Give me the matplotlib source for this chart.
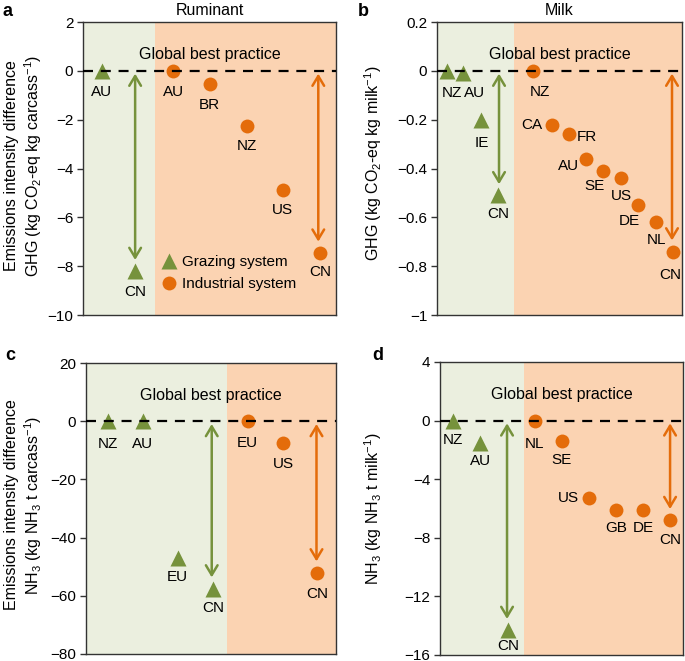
import matplotlib
matplotlib.use("Agg")
import matplotlib.pyplot as plt

plt.rcParams['font.family'] = ['Liberation Sans', 'DejaVu Sans']
plt.rcParams['mathtext.default'] = 'regular'

GREEN = '#76923c'
ORANGE = '#e46c0a'
GREEN_BG = '#ebefdf'
ORANGE_BG = '#fbd3b2'

# ---- data (x = position across the panel, 0..1) ----
# a: Ruminant GHG
a_graz_names = ['AU', 'CN']
a_graz_x = [0.075, 0.206]
a_graz_y = [0.0, -8.2]
a_ind_names = ['AU', 'BR', 'NZ', 'US', 'CN']
a_ind_x = [0.356, 0.50, 0.648, 0.79, 0.937]
a_ind_y = [0.0, -0.55, -2.25, -4.9, -7.45]

# b: Milk GHG
b_graz_names = ['NZ', 'AU', 'IE', 'CN']
b_graz_x = [0.04, 0.106, 0.178, 0.249]
b_graz_y = [0.0, -0.01, -0.20, -0.51]
b_ind_names = ['NZ', 'CA', 'FR', 'AU', 'SE', 'US', 'DE', 'NL', 'CN']
b_ind_x = [0.392, 0.469, 0.539, 0.608, 0.678, 0.751, 0.82, 0.894, 0.963]
b_ind_y = [0.0, -0.22, -0.26, -0.36, -0.41, -0.44, -0.55, -0.62, -0.74]

# c: Ruminant NH3
c_graz_names = ['NZ', 'AU', 'EU', 'CN']
c_graz_x = [0.088, 0.227, 0.367, 0.509]
c_graz_y = [0.0, 0.0, -47.0, -57.5]
c_ind_names = ['EU', 'US', 'CN']
c_ind_x = [0.647, 0.789, 0.925]
c_ind_y = [0.0, -7.5, -52.0]

# d: Milk NH3
d_graz_names = ['NZ', 'AU', 'CN']
d_graz_x = [0.055, 0.165, 0.281]
d_graz_y = [0.0, -1.5, -14.3]
d_ind_names = ['NL', 'SE', 'US', 'GB', 'DE', 'CN']
d_ind_x = [0.391, 0.501, 0.615, 0.724, 0.837, 0.947]
d_ind_y = [0.0, -1.4, -5.3, -6.1, -6.1, -6.8]

# label offsets in pixels (dx, dy) for each point
a_graz_off = [(0, -21), (0, -21)]
a_ind_off = [(0, -21), (0, -21), (0, -20), (0, -20), (0, -19)]
b_graz_off = [(5, -22), (12, -20), (1, -23), (0, -19)]
b_ind_off = [(7, -21), (-20, 0), (18, -3), (-17, -7), (-9, -15),
             (0, -18), (-9, -16), (0, -18), (-3, -23)]
c_graz_off = [(0, -23), (0, -23), (0, -19), (0, -19)]
c_ind_off = [(0, -22), (0, -21), (0, -21)]
d_graz_off = [(0, -19), (0, -18), (0, -16)]
d_ind_off = [(0, -23), (0, -19), (-21, 0), (0, -18), (0, -18), (0, -20)]

fig = plt.figure(figsize=(6.85, 6.61), dpi=100)


def panel(rect, ylim, yticks, split, graz, ind, arrows):
    ax = fig.add_axes(rect)
    ax.set_xlim(0, 1)
    ax.set_ylim(*ylim)
    ax.axvspan(0, split, color=GREEN_BG, zorder=0, lw=0)
    ax.axvspan(split, 1, color=ORANGE_BG, zorder=0, lw=0)
    names, xs, ys, offs = graz
    ax.plot(xs, ys, '^', color=GREEN, ms=11, mec='none', zorder=3)
    for n, x, y, o in zip(names, xs, ys, offs):
        ax.annotate(n, (x, y), xytext=o, textcoords='offset pixels',
                    ha='center', va='center', fontsize=11)
    names, xs, ys, offs = ind
    ax.plot(xs, ys, 'o', color=ORANGE, ms=10, mec='none', zorder=3)
    for n, x, y, o in zip(names, xs, ys, offs):
        ax.annotate(n, (x, y), xytext=o, textcoords='offset pixels',
                    ha='center', va='center', fontsize=11)
    ax.axhline(0, color='black', lw=1.6, ls=(0, (4.5, 3.5)), zorder=4)
    for x, y0, y1, col in arrows:
        ax.annotate('', xy=(x, y1), xytext=(x, y0),
                    arrowprops=dict(arrowstyle='<->,head_length=0.5,head_width=0.3',
                                    color=col, lw=1.8, shrinkA=2, shrinkB=8,
                                    mutation_scale=14),
                    zorder=2)
    ax.text(0.5, 0.888, 'Global best practice', transform=ax.transAxes,
            ha='center', va='center', fontsize=11.5)
    ax.set_yticks(yticks)
    ax.set_xticks([])
    ax.tick_params(axis='y', direction='out', length=4, width=1, labelsize=11,
                   color='#333333', pad=3)
    for s in ax.spines.values():
        s.set_color('#333333')
        s.set_linewidth(1)
    return ax


ax_a = panel([0.1212, 0.5234, 0.3693, 0.4433], (-10, 2), range(-10, 3, 2), 0.285,
             (a_graz_names, a_graz_x, a_graz_y, a_graz_off),
             (a_ind_names, a_ind_x, a_ind_y, a_ind_off),
             [(a_graz_x[-1], 0, a_graz_y[-1], GREEN), (0.93, 0, a_ind_y[-1], ORANGE)])
ax_a.set_title('Ruminant', fontsize=11.5, pad=5)
ax_a.set_yticklabels(['\u221210', '\u22128', '\u22126', '\u22124', '\u22122', '0', '2'])
ax_a.plot([], [], '^', color=GREEN, ms=11, mec='none', label='Grazing system')
ax_a.plot([], [], 'o', color=ORANGE, ms=10, mec='none', label='Industrial system')
ax_a.legend(loc='lower left', bbox_to_anchor=(0.27, 0.06), frameon=False,
            fontsize=11, handletextpad=0.1, labelspacing=0.55, handlelength=1.5,
            borderaxespad=0)

ax_b = panel([0.638, 0.5234, 0.3577, 0.4433], (-1, 0.2), [-1, -0.8, -0.6, -0.4, -0.2, 0, 0.2], 0.314,
             (b_graz_names, b_graz_x, b_graz_y, b_graz_off),
             (b_ind_names, b_ind_x, b_ind_y, b_ind_off),
             [(0.253, 0, b_graz_y[-1], GREEN), (0.959, 0, b_ind_y[-1], ORANGE)])
ax_b.set_title('Milk', fontsize=11.5, pad=5)
ax_b.set_yticklabels(['\u22121', '\u22120.8', '\u22120.6', '\u22120.4', '\u22120.2', '0', '0.2'])

ax_c = panel([0.1255, 0.0106, 0.365, 0.4402], (-80, 20), range(-80, 21, 20), 0.563,
             (c_graz_names, c_graz_x, c_graz_y, c_graz_off),
             (c_ind_names, c_ind_x, c_ind_y, c_ind_off),
             [(0.503, 0, c_graz_y[-1], GREEN), (0.922, 0, c_ind_y[-1], ORANGE)])
ax_c.set_yticklabels(['\u221280', '\u221260', '\u221240', '\u221220', '0', '20'])

ax_d = panel([0.6423, 0.0091, 0.3547, 0.4433], (-16, 4), range(-16, 5, 4), 0.347,
             (d_graz_names, d_graz_x, d_graz_y, d_graz_off),
             (d_ind_names, d_ind_x, d_ind_y, d_ind_off),
             [(0.276, 0, d_graz_y[-1], GREEN), (0.947, 0, d_ind_y[-1], ORANGE)])
ax_d.set_yticklabels(['\u221216', '\u221212', '\u22128', '\u22124', '0', '4'])

# y labels
fig.text(24 / 685, 1 - 166 / 661,
         'Emissions intensity difference\nGHG (kg CO$_2$-eq kg carcass$^{-1}$)',
         rotation=90, ha='center', va='center', fontsize=11.5, linespacing=1.25)
fig.text(24 / 685, 1 - 505 / 661,
         'Emissions intensity difference\nNH$_3$ (kg NH$_3$ t carcass$^{-1}$)',
         rotation=90, ha='center', va='center', fontsize=11.5, linespacing=1.25)
fig.text(373 / 685, 1 - 163 / 661, 'GHG (kg CO$_2$-eq kg milk$^{-1}$)',
         rotation=90, ha='center', va='center', fontsize=11.5)
fig.text(373 / 685, 1 - 509 / 661, 'NH$_3$ (kg NH$_3$ t milk$^{-1}$)',
         rotation=90, ha='center', va='center', fontsize=11.5)

# panel letters
for lab, x, y in [('a', 8, 12), ('b', 363, 12), ('c', 10, 355), ('d', 378, 355)]:
    fig.text(x / 685, 1 - y / 661, lab, fontsize=13, fontweight='bold',
             ha='center', va='center')

fig.savefig('out.png', dpi=100)
